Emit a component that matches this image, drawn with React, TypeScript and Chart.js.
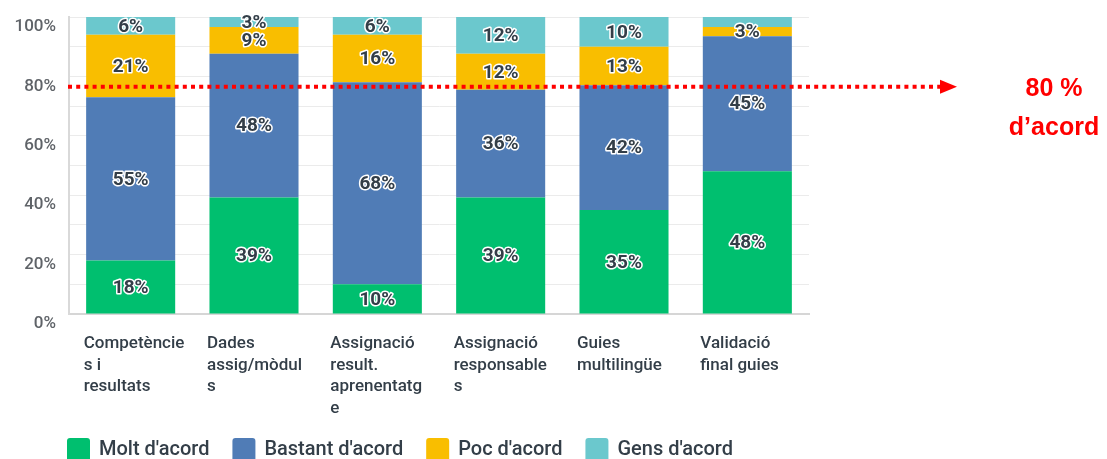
import React, { useEffect, useRef } from 'react';
import { Chart, registerables } from 'chart.js';

Chart.register(...registerables);

// ---- Data ----
const categories: string[][] = [
  ['Competèncie', 's i', 'resultats'],
  ['Dades', 'assig/mòdul', 's'],
  ['Assignació', 'result.', 'aprenentatg', 'e'],
  ['Assignació', 'responsable', 's'],
  ['Guies', 'multilingüe'],
  ['Validació', 'final guies'],
];
const seriesNames = ["Molt d'acord", "Bastant d'acord", "Poc d'acord", "Gens d'acord"];
const moltAcord = [18, 39.2, 10, 39.2, 35, 48.1];
const bastantAcord = [55, 48.4, 68, 36.3, 42, 45.4];
const pocAcord = [21, 9.0, 16, 12.1, 13, 3.1];
const gensAcord = [6, 3.4, 6, 12.4, 10, 3.4];
const seriesColors = ['#00BF6F', '#507CB6', '#F9BE00', '#6BC8CD'];
const yLabelStep = 20;
const referenceValue = 76.5;
const referenceText = ['80 %', 'd’acord'];
// [datasetIndex, categoryIndex] whose value label is not shown in the reference
const hiddenLabels: number[][] = [[3, 5]];

const TEXT_DARK = '#333E48';
const FONT = 'Roboto, "Noto Sans", sans-serif';

const valueLabels = {
  id: 'valueLabels',
  afterDatasetsDraw(chart: any) {
    const { ctx } = chart;
    ctx.save();
    ctx.font = `bold 19px ${FONT}`;
    ctx.textAlign = 'center';
    ctx.textBaseline = 'middle';
    ctx.lineJoin = 'round';
    chart.data.datasets.forEach((ds: any, di: number) => {
      const meta = chart.getDatasetMeta(di);
      meta.data.forEach((bar: any, i: number) => {
        if (hiddenLabels.some(([a, b]) => a === di && b === i)) return;
        const v = ds.data[i];
        const cy = (bar.y + bar.base) / 2 + 1;
        const txt = `${Math.round(v)}%`;
        ctx.strokeStyle = '#FFFFFF';
        ctx.lineWidth = 3;
        ctx.strokeText(txt, bar.x, cy);
        ctx.fillStyle = TEXT_DARK;
        ctx.fillText(txt, bar.x, cy);
      });
    });
    ctx.restore();
  },
};

const refLine = {
  id: 'refLine',
  afterDatasetsDraw(chart: any) {
    const { ctx, chartArea, scales } = chart;
    const y = scales.y.getPixelForValue(referenceValue);
    ctx.save();
    ctx.strokeStyle = '#FF0000';
    ctx.lineWidth = 4;
    ctx.setLineDash([4, 4.2]);
    ctx.beginPath();
    ctx.moveTo(chartArea.left - 1, y);
    ctx.lineTo(chartArea.right + 132, y);
    ctx.stroke();
    ctx.setLineDash([]);
    ctx.fillStyle = '#FF0000';
    ctx.beginPath();
    ctx.moveTo(chartArea.right + 131, y - 7);
    ctx.lineTo(chartArea.right + 148, y);
    ctx.lineTo(chartArea.right + 131, y + 7);
    ctx.closePath();
    ctx.fill();
    ctx.font = 'bold 25px "Liberation Sans", Arial, sans-serif';
    ctx.textAlign = 'center';
    ctx.textBaseline = 'middle';
    ctx.fillText(referenceText[0], chartArea.right + 245, y + 2);
    ctx.fillText(referenceText[1], chartArea.right + 245, y + 41);
    ctx.restore();
  },
};

const customLegend = {
  id: 'customLegend',
  afterDraw(chart: any) {
    const { ctx } = chart;
    ctx.save();
    ctx.font = `500 20px ${FONT}`;
    ctx.textBaseline = 'middle';
    ctx.textAlign = 'left';
    let x = 67;
    const cy = 450;
    chart.data.datasets.forEach((ds: any) => {
      ctx.fillStyle = ds.backgroundColor;
      ctx.beginPath();
      (ctx as any).roundRect(x, 438, 23, 24, 3);
      ctx.fill();
      ctx.fillStyle = TEXT_DARK;
      ctx.fillText(ds.label, x + 32, cy);
      x += 32 + ctx.measureText(ds.label).width + 23;
    });
    ctx.restore();
  },
};

export default function App() {
  const ref = useRef<HTMLCanvasElement | null>(null);
  useEffect(() => {
    if (!ref.current) return;
    const seriesValues = [moltAcord, bastantAcord, pocAcord, gensAcord];
    const chart = new Chart(ref.current, {
      type: 'bar',
      data: {
        labels: categories,
        datasets: seriesNames.map((name, k) => ({
          label: name,
          data: seriesValues[k],
          backgroundColor: seriesColors[k],
          borderWidth: 0,
          barPercentage: 0.722,
          categoryPercentage: 1,
        })),
      },
      options: {
        animation: false,
        responsive: true,
        maintainAspectRatio: false,
        layout: { padding: { top: 17, right: 298, bottom: 0, left: 0 } },
        plugins: {
          legend: { display: false },
          tooltip: { enabled: false },
        },
        scales: {
          x: {
            stacked: true,
            grid: { display: false, drawTicks: false },
            border: { display: true, color: '#D6D6D6', width: 2 },
            ticks: {
              align: 'start',
              labelOffset: -47,
              padding: 19,
              color: TEXT_DARK,
              font: { family: FONT, size: 17, weight: '500', lineHeight: '21.5px' } as any,
              maxRotation: 0,
              autoSkip: false,
            },
            afterFit(scale: any) {
              scale.height = 145;
              scale.paddingLeft = 0;
              scale.paddingRight = 0;
            },
          },
          y: {
            stacked: true,
            min: 0,
            max: 100,
            grid: { color: '#EBEBEB', lineWidth: 1, drawTicks: false },
            border: { display: true, color: '#D9D9D9', width: 2 },
            ticks: {
              stepSize: 10,
              labelOffset: 10,
              padding: 13,
              color: '#5F6368',
              font: { family: FONT, size: 17, weight: '500' } as any,
              callback: (v: any) => (Number(v) % yLabelStep === 0 ? `${v}%` : ''),
            },
            afterFit(scale: any) {
              scale.width = 69;
              scale.paddingTop = 0;
              scale.paddingBottom = 0;
            },
          },
        },
      },
      plugins: [valueLabels, refLine, customLegend],
    });
    return () => chart.destroy();
  }, []);

  return (
    <div style={{ position: 'fixed', left: 0, top: 0, width: 1107, height: 459, background: '#fff' }}>
      <canvas ref={ref} />
    </div>
  );
}
